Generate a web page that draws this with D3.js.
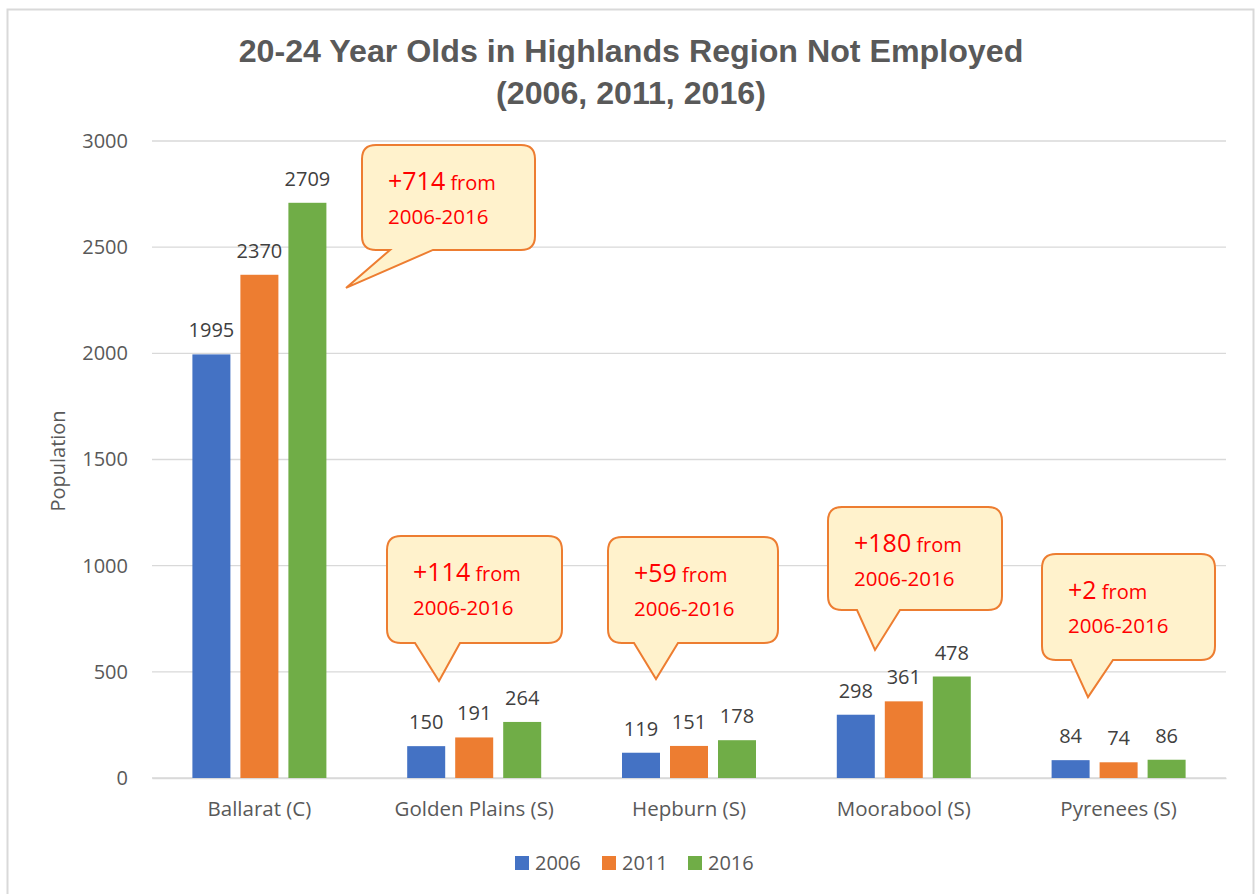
<!DOCTYPE html>
<html><head><meta charset="utf-8">
<script src="https://cdn.jsdelivr.net/npm/d3@7"></script>
<style>body{margin:0;background:#fff}svg{display:block}</style>
</head><body>
<svg id="c" width="1255" height="894"></svg>
<script>
const categories = ["Ballarat (C)", "Golden Plains (S)", "Hepburn (S)", "Moorabool (S)", "Pyrenees (S)"];
const seriesNames = ["2006", "2011", "2016"];
const values2006 = [1995, 150, 119, 298, 84];
const values2011 = [2370, 191, 151, 361, 74];
const values2016 = [2709, 264, 178, 478, 86];
const yTicks = [0, 500, 1000, 1500, 2000, 2500, 3000];
const calloutBig = ["+714", "+114", "+59", "+180", "+2"];
const calloutRest = " from";
const calloutLine2 = "2006-2016";
const titleLines = ["20-24 Year Olds in Highlands Region Not Employed", "(2006, 2011, 2016)"];
const yTitle = "Population";

// callout layout (x offsets in px from category centre, y in data units)
const calloutLayout = [
  {l: 102.6, r: 275.6, top: 2981, bot: 2487, bl: 130.6, br: 173.6, tx: 86.6, ty: 2308},
  {l: -87.2, r: 87.8, top: 1140, bot: 636, bl: -59.2, br: -14.2, tx: -35.2, ty: 457},
  {l: -81, r: 89, top: 1135, bot: 636, bl: -55, br: -11, tx: -33, ty: 466},
  {l: -75.8, r: 98.2, top: 1276, bot: 791, bl: -46.8, br: -3.8, tx: -28.8, ty: 603},
  {l: -76.6, r: 96.4, top: 1055, bot: 556, bl: -47.6, br: -5.6, tx: -30.6, ty: 381}
];

const colors = ["#4472C4", "#ED7D31", "#70AD47"];
const seriesVals = [values2006, values2011, values2016];
const FONT = "'Open Sans', sans-serif";

const svg = d3.select("#c");
svg.append("rect").attr("x", 7.5).attr("y", 9.5).attr("width", 1246).attr("height", 900)
  .attr("fill", "#fff").attr("stroke", "#D9D9D9").attr("stroke-width", 2);

const plot = {left: 152, right: 1226, top: 141, bottom: 778};
const x = d3.scaleBand().domain(categories).range([plot.left, plot.right]).padding(0);
const xs = d3.scaleBand().domain(seriesNames).range([0, 134]).paddingInner(10/48).paddingOuter(0);
const y = d3.scaleLinear().domain([0, 3000]).range([plot.bottom, plot.top]);

svg.append("g").selectAll("line").data(yTicks).join("line")
  .attr("x1", plot.left).attr("x2", plot.right)
  .attr("y1", d => y(d)).attr("y2", d => y(d))
  .attr("stroke", "#D9D9D9").attr("stroke-width", 1.3);

const yAxis = d3.axisLeft(y).tickValues(yTicks).tickFormat(d3.format("d")).tickSize(0).tickPadding(0);
const ya = svg.append("g").attr("transform", `translate(128,0)`).call(yAxis);
ya.select(".domain").remove();
ya.selectAll("text").attr("font-family", FONT).attr("font-size", 20).attr("fill", "#595959");

const xAxis = d3.axisBottom(x).tickSize(0).tickPadding(0);
const xa = svg.append("g").attr("transform", `translate(0,${plot.bottom})`).call(xAxis);
xa.select(".domain").attr("stroke", "#D9D9D9").attr("stroke-width", 1.3);
xa.selectAll("text").attr("font-family", FONT).attr("font-size", 20.5).attr("fill", "#595959")
  .attr("dy", null).attr("y", 38);

const rows = [];
categories.forEach((c, i) => seriesNames.forEach((s, j) => rows.push({c, s, j, v: seriesVals[j][i]})));
const gx = c => x(c) + x.bandwidth()/2 - 67;
svg.append("g").selectAll("rect").data(rows).join("rect")
  .attr("x", d => gx(d.c) + xs(d.s)).attr("width", xs.bandwidth())
  .attr("y", d => y(d.v)).attr("height", d => y(0) - y(d.v))
  .attr("fill", d => colors[d.j]);
svg.append("g").selectAll("text").data(rows).join("text")
  .attr("x", d => gx(d.c) + xs(d.s) + xs.bandwidth()/2)
  .attr("y", d => y(d.v) - 17)
  .attr("text-anchor", "middle").attr("font-family", FONT).attr("font-size", 20).attr("fill", "#404040")
  .text(d => d.v);

const tg = svg.append("g");
titleLines.forEach((t, i) => {
  tg.append("text").attr("x", 631).attr("y", i === 0 ? 62 : 104).attr("text-anchor", "middle")
    .attr("font-family", "'Liberation Sans Narrow', 'Liberation Sans', sans-serif").attr("font-weight", "bold")
    .attr("font-size", 35).attr("fill", "#595959").text(t);
});
const targetW = [785, 270];
tg.selectAll("text").each(function(d, i) {
  const w = this.getComputedTextLength();
  const fs = 35 * targetW[i] / w;
  d3.select(this).attr("font-size", Math.min(fs, 40));
});

svg.append("text").attr("transform", "translate(65,461) rotate(-90)").attr("text-anchor", "middle")
  .attr("font-family", FONT).attr("font-size", 20).attr("fill", "#595959").text(yTitle);

const lg = svg.append("g");
const legX = [515, 602, 688];
seriesNames.forEach((s, i) => {
  lg.append("rect").attr("x", legX[i]).attr("y", 856).attr("width", 14).attr("height", 14).attr("fill", colors[i]);
  lg.append("text").attr("x", legX[i] + 20).attr("y", 870).attr("font-family", FONT).attr("font-size", 20)
    .attr("fill", "#595959").text(s);
});

const cg = svg.append("g");
calloutLayout.forEach((L, i) => {
  const cx = x(categories[i]) + x.bandwidth()/2;
  const l = cx + L.l, r = cx + L.r, t = y(L.top), b = y(L.bot), rad = 14;
  const bl = cx + L.bl, br = cx + L.br, tx = cx + L.tx, ty = y(L.ty);
  const p = d3.path();
  p.moveTo(l + rad, t);
  p.lineTo(r - rad, t); p.quadraticCurveTo(r, t, r, t + rad);
  p.lineTo(r, b - rad); p.quadraticCurveTo(r, b, r - rad, b);
  p.lineTo(br, b); p.lineTo(tx, ty); p.lineTo(bl, b);
  p.lineTo(l + rad, b); p.quadraticCurveTo(l, b, l, b - rad);
  p.lineTo(l, t + rad); p.quadraticCurveTo(l, t, l + rad, t);
  p.closePath();
  cg.append("path").attr("d", p.toString()).attr("fill", "#FFF2CC").attr("stroke", "#ED7D31").attr("stroke-width", 2);
  const tt = cg.append("text").attr("x", l + 26).attr("y", t + 45).attr("font-family", FONT).attr("fill", "#FF0000");
  tt.append("tspan").attr("font-size", 25).text(calloutBig[i]);
  tt.append("tspan").attr("font-size", 20).text(calloutRest);
  cg.append("text").attr("x", l + 26).attr("y", t + 79).attr("font-family", FONT).attr("font-size", 20.5)
    .attr("fill", "#FF0000").text(calloutLine2);
});
</script>
</body></html>
